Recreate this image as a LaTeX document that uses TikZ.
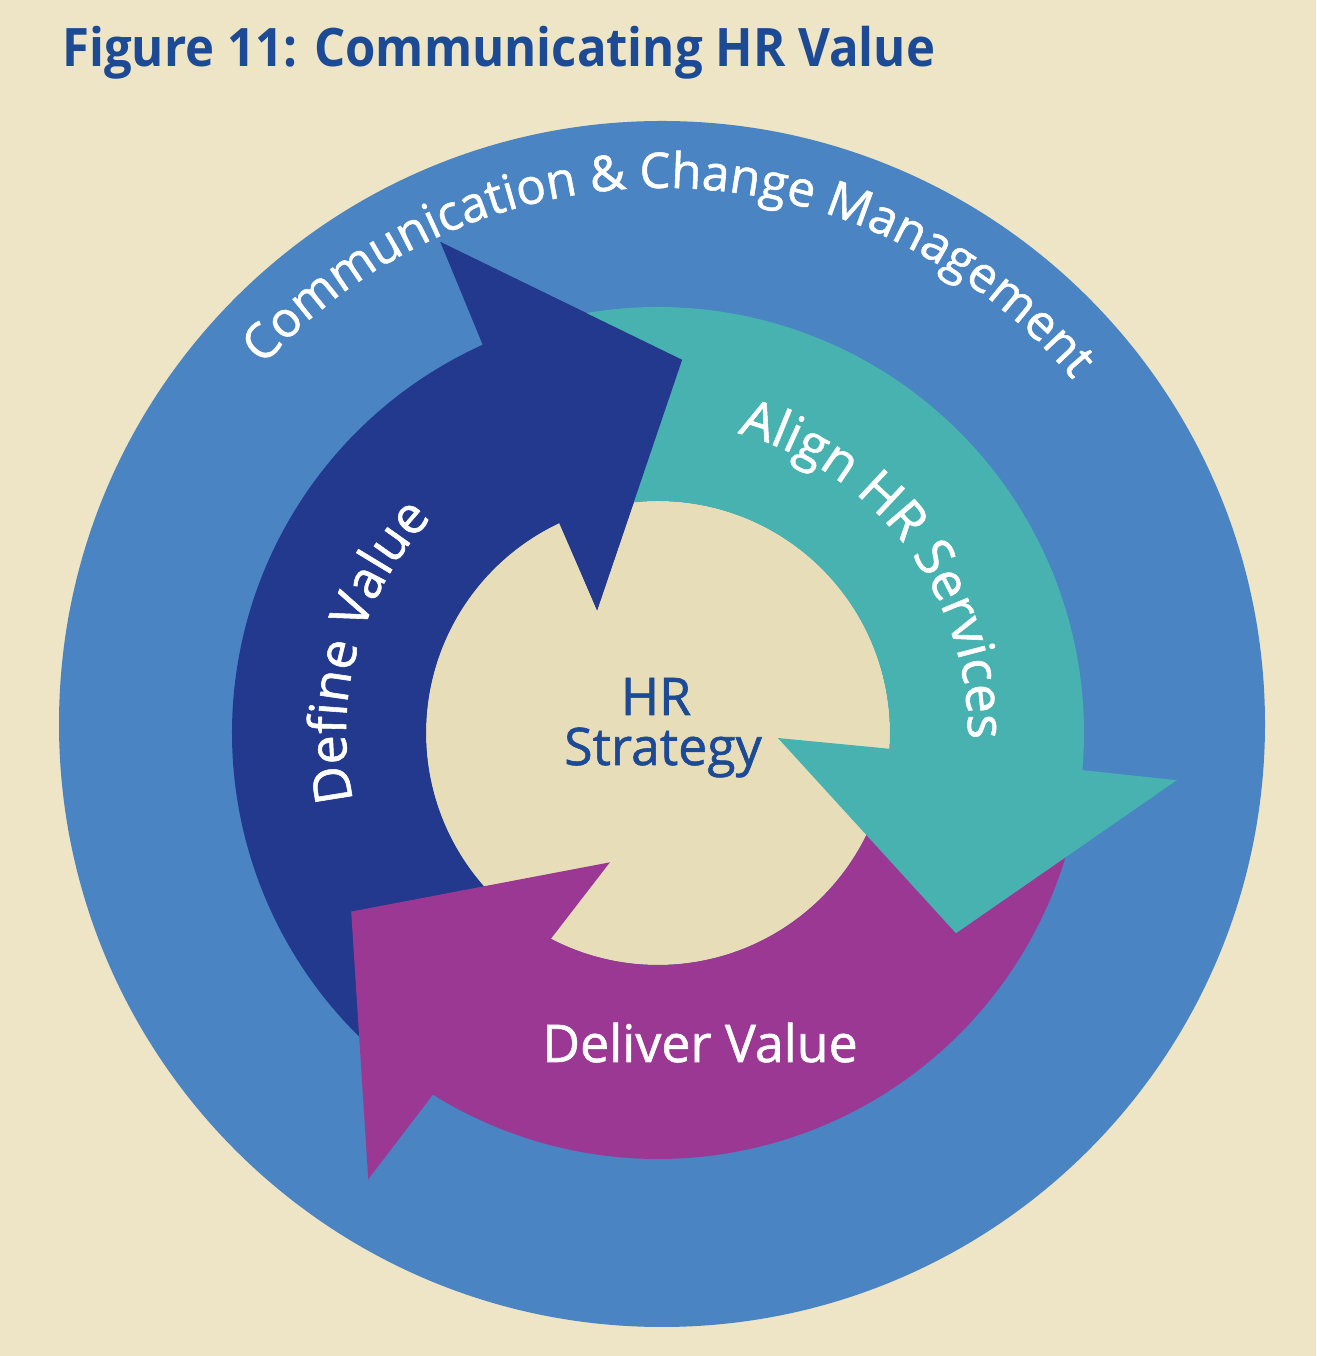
\documentclass[tikz,border=0pt]{standalone}
\usepackage{fontspec}
\setmainfont{Open Sans}
\newfontfamily\mediumfont{Open Sans}[FakeBold=1.1]
\usepackage{tikz}
\usetikzlibrary{decorations.text}
\definecolor{PageBeige}{HTML}{EDE5C6}
\definecolor{CoreBeige}{HTML}{E7DEB9}
\definecolor{RingBlue}{HTML}{4A84C3}
\definecolor{DefineNavy}{HTML}{23398D}
\definecolor{AlignTeal}{HTML}{48B2B0}
\definecolor{DeliverPurple}{HTML}{9B3894}
\definecolor{TitleBlue}{HTML}{1C4A94}
\newcommand{\ringfont}{\mediumfont\fontsize{28}{30}\selectfont}
\newcommand{\bandfont}{\mediumfont\fontsize{29.5}{32}\selectfont}

\begin{document}
\begin{tikzpicture}[
    x=0.02cm, y=0.02cm,
    bandtext/.style={decorate, decoration={text along path, text align=center, text color=white}},
    bandlabel/.style={font=\bandfont, inner sep=0pt, anchor=base}
  ]
  \useasboundingbox (0,0) rectangle (1316,1356);
  \fill[PageBeige] (0,0) rectangle (1316,1356);

  \node[anchor=base west, inner sep=0pt, font=\bfseries\fontsize{30.2}{32}\selectfont,
        text=TitleBlue, xscale=0.925, transform shape] (title) at (62,1289)
        {Figure 11: Communicating HR Value};

  % outer ring
  \begin{scope}[shift={(662,632)}]
    \fill[RingBlue] (0,0) circle[radius=603];
    \path[bandtext, decoration={text={|\ringfont|Communication {\&} Change Management}}]
      (149:536) arc[start angle=149, end angle=29, radius=536];
  \end{scope}

  % the three arrows
  \begin{scope}[shift={(658,623)}]
    \fill[CoreBeige] (0,0) circle[radius=232];
    % define value
    \fill[DefineNavy] (228:426) arc[start angle=228, end angle=114.3, radius=426]
      -- (113.9:537) -- (86.3:374) -- (116.4:137) -- (115.2:232)
      arc[start angle=115.2, end angle=228, radius=232] -- cycle;
    % deliver value
    \fill[DeliverPurple] (348:426) arc[start angle=348, end angle=238.1, radius=426]
      -- (237:532) -- (210.2:355) -- (249.6:138) -- (242.5:232)
      arc[start angle=242.5, end angle=348, radius=232] -- cycle;
    % align hr services
    \fill[AlignTeal] (105:426) arc[start angle=105, end angle=-5, radius=426]
      -- (-5.2:521) -- (-33.9:359) -- (-2.4:120) -- (-3.9:232)
      arc[start angle=-3.9, end angle=105, radius=232] -- cycle;
    % navy head again, over the teal tail
    \fill[DefineNavy] (113.9:537) -- (86.3:374) -- (116.4:137) -- cycle;

    \path[bandtext, decoration={text={|\bandfont|Define Value}}]
      (200:312) arc[start angle=200, end angle=129, radius=312];
    \path[bandtext, decoration={text={|\bandfont|Align HR Services}}]
      (80:310) arc[start angle=80, end angle=-6, radius=310];
  \end{scope}

  \node[bandlabel, text=white] (deliver) at (700,294) {Deliver Value};
  \node[bandlabel, text=TitleBlue] (hr) at (656,641) {HR};
  \node[bandlabel, text=TitleBlue] (strategy) at (663,591) {Strategy};
\end{tikzpicture}
\end{document}
